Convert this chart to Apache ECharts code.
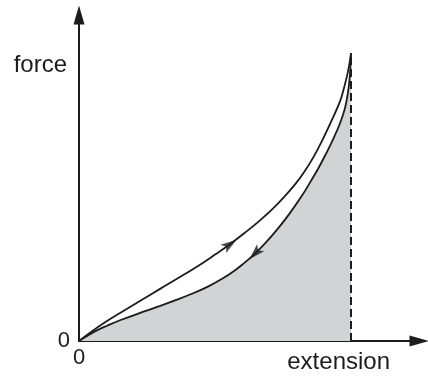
<!DOCTYPE html>
<html>
<head>
<meta charset="utf-8">
<script src="https://cdn.jsdelivr.net/npm/echarts@6/dist/echarts.min.js"></script>
<style>
html,body{margin:0;padding:0;background:#fff;}
#c{width:428px;height:377px;}
</style>
</head>
<body>
<div id="c"></div>
<script>
// Loading curve (extension -> force), arbitrary units, peak at (10,10)
const loadX = [0, 0.48, 0.96, 1.51, 2.24, 2.98, 3.71, 4.45, 5.0, 5.55, 6.1, 6.58, 7.1, 7.57, 7.98, 8.31, 8.64, 8.93, 9.26, 9.6, 9.74, 9.89, 10];
const loadY = [0, 0.34, 0.65, 0.97, 1.39, 1.81, 2.22, 2.65, 3.0, 3.36, 3.76, 4.13, 4.57, 5.03, 5.48, 5.91, 6.42, 6.94, 7.6, 8.33, 8.78, 9.36, 10];
// Unloading curve
const unloadX = [0, 0.33, 0.66, 1.03, 1.51, 2.32, 2.98, 3.53, 4.15, 4.74, 5.26, 5.74, 6.1, 6.4, 6.84, 7.32, 7.76, 8.2, 8.49, 8.79, 9.08, 9.34, 9.6, 9.78, 9.89, 9.96, 10];
const unloadY = [0, 0.19, 0.37, 0.53, 0.72, 1.0, 1.22, 1.41, 1.64, 1.89, 2.16, 2.46, 2.73, 2.97, 3.39, 3.91, 4.45, 5.05, 5.5, 5.98, 6.5, 7.0, 7.57, 8.09, 8.64, 9.23, 10];
// Maximum extension marker (dashed)
const maxExtX = [10, 10];
const maxExtY = [0, 10];
// Direction arrows on curves
const arrowLoad = [5.55, 3.36];
const arrowUnload = [6.47, 3.04];
// Tick labels shown
const tickLabels = ['0'];
const axisNames = { x: 'extension', y: 'force' };

const zip = (xs, ys) => xs.map((x, i) => [x, ys[i]]);

const chart = echarts.init(document.getElementById('c'), null, { renderer: 'canvas' });
const FONT = 'Liberation Sans, Arial, sans-serif';
const INK = '#1c1c1c';
const ARROW = 'path://M5,0 L10,16 L5,12.5 L0,16 Z';

function makeOption(rotLoad, rotUnload) {
  return {
    animation: false,
    backgroundColor: '#ffffff',
    grid: { left: 79, right: 9, top: 15, bottom: 36 },
    xAxis: {
      type: 'value', min: 0, max: 12.5, interval: 12.5,
      name: axisNames.x, nameLocation: 'end', nameGap: -29,
      nameTextStyle: { fontFamily: FONT, fontSize: 24, color: INK, align: 'right', verticalAlign: 'top', padding: [9, 0, 0, 0] },
      axisLine: { show: true, lineStyle: { color: INK, width: 2 }, symbol: ['none', 'triangle'], symbolSize: [11, 19] },
      axisTick: { show: false },
      splitLine: { show: false },
      axisLabel: { margin: 6, fontFamily: FONT, fontSize: 22, color: INK, formatter: v => (v === 0 ? tickLabels[0] : '') }
    },
    yAxis: {
      type: 'value', min: 0, max: 11.32, interval: 11.32,
      name: axisNames.y, nameLocation: 'end', nameGap: -50,
      nameTextStyle: { fontFamily: FONT, fontSize: 24, color: INK, align: 'right', verticalAlign: 'middle', padding: [0, 12, 0, 0] },
      axisLine: { show: true, lineStyle: { color: INK, width: 2 }, symbol: ['none', 'triangle'], symbolSize: [11, 19] },
      axisTick: { show: false },
      splitLine: { show: false },
      axisLabel: { margin: 9, fontFamily: FONT, fontSize: 22, color: INK, formatter: v => (v === 0 ? tickLabels[0] : '') }
    },
    series: [
      {
        type: 'line', data: zip(unloadX, unloadY), smooth: 0.4, showSymbol: false, symbol: 'none',
        lineStyle: { color: INK, width: 1.8 },
        areaStyle: { color: '#d2d3d5', opacity: 1 }, z: 2
      },
      {
        type: 'line', data: zip(loadX, loadY), smooth: 0.4, showSymbol: false, symbol: 'none',
        lineStyle: { color: INK, width: 1.8 }, z: 3
      },
      {
        type: 'line', data: zip(maxExtX, maxExtY), showSymbol: false, symbol: 'none',
        lineStyle: { color: INK, width: 2, type: [8, 4] }, z: 4
      },
      {
        type: 'scatter', data: [arrowLoad], symbol: ARROW, symbolSize: [10, 16], symbolRotate: rotLoad,
        itemStyle: { color: INK }, z: 5, silent: true
      },
      {
        type: 'scatter', data: [arrowUnload], symbol: ARROW, symbolSize: [10, 16], symbolRotate: rotUnload,
        itemStyle: { color: INK }, z: 5, silent: true
      }
    ]
  };
}

chart.setOption(makeOption(0, 0));

function angleAt(xs, ys, x, reverse) {
  let i = 0;
  while (i < xs.length - 2 && xs[i + 1] < x) i++;
  const p1 = chart.convertToPixel({ gridIndex: 0 }, [xs[i], ys[i]]);
  const p2 = chart.convertToPixel({ gridIndex: 0 }, [xs[i + 1], ys[i + 1]]);
  let dx = p2[0] - p1[0], dy = p2[1] - p1[1];
  if (reverse) { dx = -dx; dy = -dy; }
  return Math.atan2(-dy, dx) * 180 / Math.PI - 90;
}

chart.setOption(makeOption(
  angleAt(loadX, loadY, arrowLoad[0], false),
  angleAt(unloadX, unloadY, arrowUnload[0], true)
));
</script>
</body>
</html>
